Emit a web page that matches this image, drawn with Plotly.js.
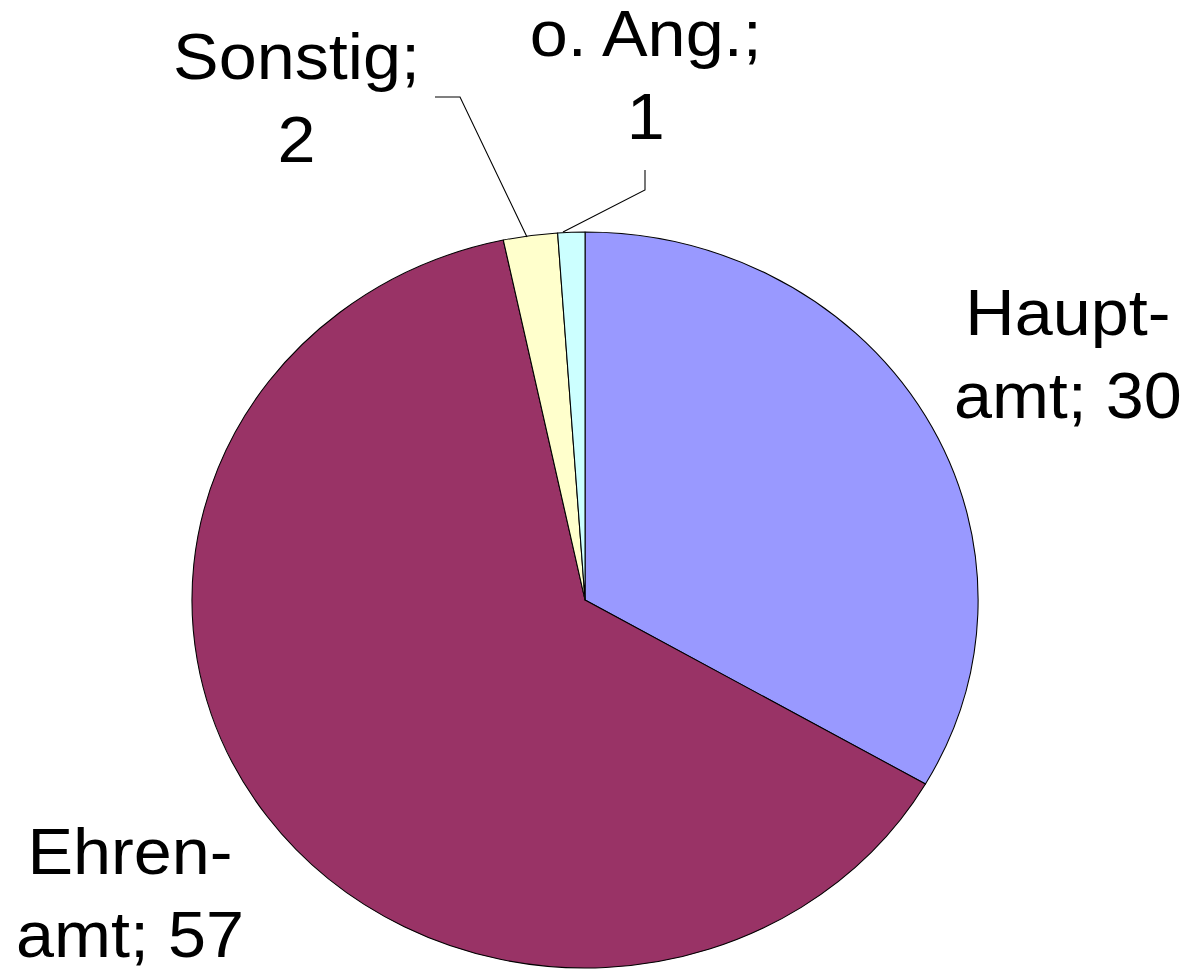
<!DOCTYPE html>
<html>
<head>
<meta charset="utf-8">
<script src="https://cdn.plot.ly/plotly-3.0.1.min.js"></script>
<style>
  html, body { margin: 0; padding: 0; overflow: hidden; background: #fff; }
  #chart { width: 1115px; height: 969px; transform: scaleX(1.06816); transform-origin: 0 0; }
</style>
</head>
<body>
<div id="chart"></div>
<script>
// Data
const categories = ["Haupt-amt", "Ehren-amt", "Sonstig", "o. Ang."];
const labelTexts = ["Haupt-<br>amt; 30", "Ehren-<br>amt; 57", "Sonstig;<br>2", "o. Ang.;<br>1"];
const values = [30, 57, 2, 1];
const colors = ["#9999FF", "#993366", "#FFFFCC", "#CCFFFF"];

// Layout helpers (reference pixel coords -> paper coords)
const REF_W = 1191, REF_H = 969;
const px = x => x / REF_W;
const py = y => 1 - y / REF_H;

// label positions in reference pixels (block centres)
const labelPos = [[1068, 354], [130, 893], [296, 99], [646, 75]];

const annotations = labelTexts.map((t, i) => ({
  text: t,
  x: px(labelPos[i][0]), y: py(labelPos[i][1]),
  xref: 'paper', yref: 'paper',
  xanchor: 'center', yanchor: 'middle',
  showarrow: false,
  align: 'center',
  font: { family: 'Liberation Sans, Arial, sans-serif', size: 64, color: '#000' }
}));

const shapes = [
  { type: 'path', xref: 'paper', yref: 'paper',
    path: `M ${px(527)} ${py(237)} L ${px(460)} ${py(97)} L ${px(435)} ${py(97)}`,
    line: { color: '#000', width: 1 } },
  { type: 'path', xref: 'paper', yref: 'paper',
    path: `M ${px(563)} ${py(232)} L ${px(645)} ${py(190)} L ${px(645)} ${py(170)}`,
    line: { color: '#000', width: 1 } }
];

const trace = {
  type: 'pie',
  labels: categories,
  values: values,
  sort: false,
  direction: 'clockwise',
  rotation: 0,
  textinfo: 'none',
  hoverinfo: 'none',
  showlegend: false,
  marker: { colors: colors, line: { color: '#000', width: 1 } },
  domain: { x: [0.16117, 0.82126], y: [0.00103, 0.76058] }
};

Plotly.newPlot('chart', [trace], {
  width: 1115, height: 969,
  margin: { l: 0, r: 0, t: 0, b: 0 },
  paper_bgcolor: '#fff',
  plot_bgcolor: '#fff',
  annotations: annotations,
  shapes: shapes
}, { staticPlot: true });
</script>
</body>
</html>
